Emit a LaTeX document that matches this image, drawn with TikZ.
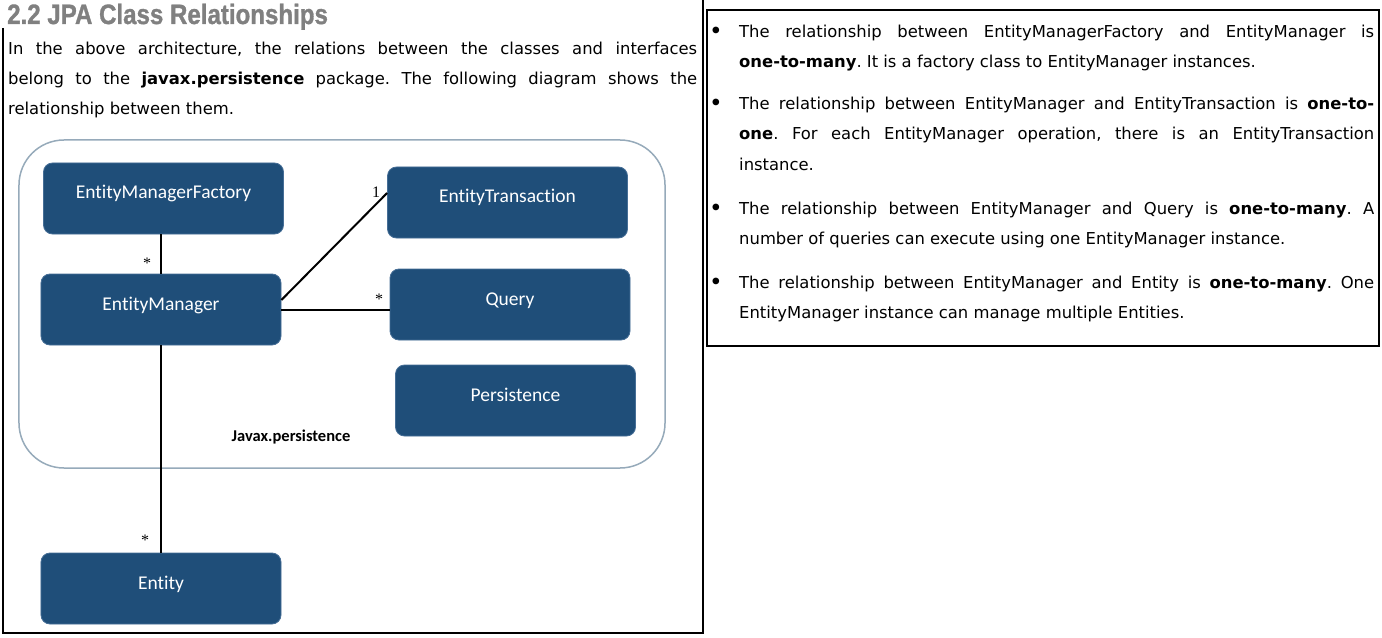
\documentclass[tikz,border=0pt]{standalone}
\usepackage{fontspec}
\usepackage{graphicx}
\setmainfont{DejaVu Sans}
\newfontfamily\boxfont[Ligatures=NoCommon]{Carlito}
\newfontfamily\titlefont[FakeBold=1.2]{Liberation Sans}
\newfontfamily\multfont{Liberation Serif}
\definecolor{boxblue}{RGB}{31,78,121}
\definecolor{boxedge}{RGB}{70,110,150}
\definecolor{pkgedge}{RGB}{150,170,186}
\definecolor{titlegray}{RGB}{128,128,128}
\hyphenpenalty=10000
\exhyphenpenalty=10000
\tolerance=10000
\frenchspacing
\begin{document}
\begin{tikzpicture}[x=1bp,y=-1bp,
  cls/.style={draw=boxedge, line width=0.8bp, fill=boxblue, rounded corners=9bp,
    minimum width=240bp, minimum height=71bp, inner sep=0pt, text=white,
    font=\boxfont\fontsize{19.5bp}{23bp}\selectfont, text height=8bp, text depth=7bp},
  conn/.style={line width=2bp, black},
  mult/.style={font=\multfont\fontsize{16bp}{18bp}\selectfont, inner sep=0pt, anchor=base},
  body/.style={inner sep=0pt, anchor=north west, align=justify},
  panelline/.style={line width=1.5bp, black},
  bulletdot/.style={anchor=base, inner sep=0pt, font=\bfseries\fontsize{19bp}{20bp}\selectfont}
]
\useasboundingbox (0,0) rectangle (1382,638);
\fill[white] (0,0) rectangle (1382,638);

% panels
\draw[panelline] (3,28) -- (3,633) -- (703,633) -- (703,0);
\draw[panelline] (707,10) rectangle (1379,346);

% title
\node[anchor=base west, inner sep=0pt, text=titlegray] (title) at (7,24)
  {\titlefont\fontsize{28bp}{28bp}\selectfont\bfseries\scalebox{0.86}[1]{2.2 JPA Class Relationships}};

% intro paragraph
\node[body, text width=689bp, font=\fontsize{16.4bp}{30bp}\selectfont] (intro) at (8,33)
  {\strut In the above architecture, the relations between the classes and interfaces\linebreak
   belong to the \textbf{javax.persistence} package. The following diagram shows the\linebreak
   relationship between them.};

% package container
\node[draw=pkgedge, line width=1.5bp, rounded corners=45bp, minimum width=646bp,
      minimum height=328bp, inner sep=0pt] (pkg) at (342,304) {};
\node[inner sep=0pt, font=\boxfont\bfseries\fontsize{16.5bp}{20bp}\selectfont] (pkglabel) at (291,437) {Javax.persistence};

% classes
\node[cls] (emf) at (163.5,198.5) {EntityManagerFactory};
\node[cls] (et) at (507.5,202.5) {EntityTransaction};
\node[cls] (em) at (161,309.5) {EntityManager};
\node[cls] (query) at (510,304.5) {Query};
\node[cls] (pers) at (515.5,400.5) {Persistence};
\node[cls] (entity) at (161,588.5) {Entity};

% connectors
\draw[conn] (em.north) -- (em.north |- emf.south);
\draw[conn] ([yshift=9.5bp]em.east) -- ([yshift=9.5bp]et.west);
\draw[conn] (em.east) -- (em.east -| query.west);
\draw[conn] (em.south) -- (entity.north);

% multiplicities
\node[mult] (m1) at (147,268) {*};
\node[mult] (m2) at (376,197.5) {1};
\node[mult] (m3) at (379,304) {*};
\node[mult] (m4) at (145,545) {*};

% bullets
\begin{scope}[every node/.append style={font=\fontsize{16.4bp}{30.7bp}\selectfont}]
\node[body, text width=635bp] (t1) at (739,15.5)
  {\strut The relationship between EntityManagerFactory and EntityManager is\linebreak
   \textbf{one-to-many}. It is a factory class to EntityManager instances.};
\node[body, text width=635bp] (t2) at (739,87.5)
  {\strut The relationship between EntityManager and EntityTransaction is \textbf{one-to-}\linebreak
   \textbf{one}. For each EntityManager operation, there is an EntityTransaction\linebreak
   instance.};
\node[body, text width=635bp] (t3) at (739,192.5)
  {\strut The relationship between EntityManager and Query is \textbf{one-to-many}. A\linebreak
   number of queries can execute using one EntityManager instance.};
\node[body, text width=635bp] (t4) at (739,266.5)
  {\strut The relationship between EntityManager and Entity is \textbf{one-to-many}. One\linebreak
   EntityManager instance can manage multiple Entities.};
\end{scope}
\node[bulletdot] (b1) at (716,37.5) {•};
\node[bulletdot] (b2) at (716,109.5) {•};
\node[bulletdot] (b3) at (716,214.5) {•};
\node[bulletdot] (b4) at (716,288.5) {•};
\end{tikzpicture}
\end{document}
